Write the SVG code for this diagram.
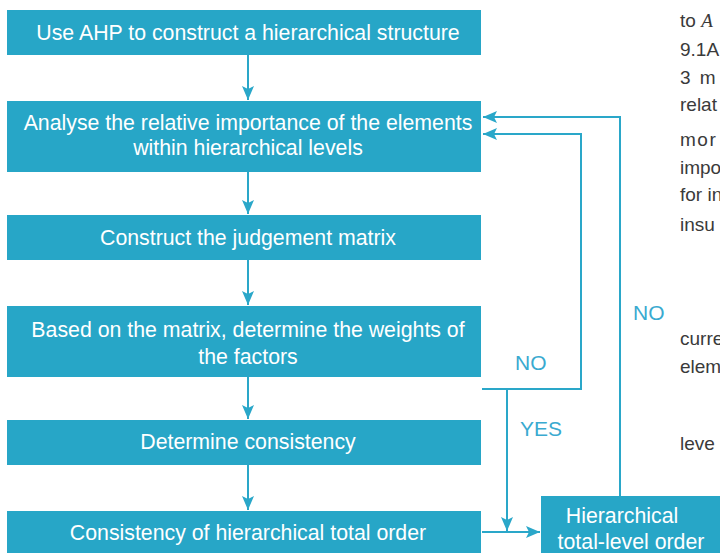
<svg xmlns="http://www.w3.org/2000/svg" width="720" height="553" viewBox="0 0 720 553">
<defs>
<style>
.box{fill:#27a6c7}
.bt{font-family:"Liberation Sans",Arial,sans-serif;font-size:21.3px;fill:#ffffff;text-anchor:middle}
.ln{fill:none;stroke:#2aa7c9;stroke-width:2}
.lbl{font-family:"Liberation Sans",Arial,sans-serif;font-size:21px;fill:#3aaad0}
.side{font-family:"Liberation Sans",Arial,sans-serif;font-size:19px;fill:#3a3a3a}
</style>
<marker id="ah" viewBox="0 0 14 12" refX="14" refY="6" markerWidth="14" markerHeight="12" markerUnits="userSpaceOnUse" orient="auto">
<path d="M0,0 L14,6 L0,12 L3,6 Z" fill="#2aa7c9"/>
</marker>
</defs>
<rect width="720" height="553" fill="#ffffff"/>

<g id="side-text">
<text class="side" x="680" y="27">to <tspan font-family="'Liberation Serif',serif" font-style="italic">A</tspan></text>
<text class="side" x="680" y="56">9.1A</text>
<text class="side" x="680" y="84" letter-spacing="2">3 m</text>
<text class="side" x="680" y="111">relat</text>
<text class="side" x="680" y="146" letter-spacing="1.5">mor</text>
<text class="side" x="680" y="174">impo</text>
<text class="side" x="680" y="201">for in</text>
<text class="side" x="680" y="231">insu</text>
<text class="side" x="680" y="345">curre</text>
<text class="side" x="680" y="373">elem</text>
<text class="side" x="680" y="450">leve</text>
</g>

<g id="connectors">
<line class="ln" x1="248" y1="55" x2="248" y2="100" marker-end="url(#ah)"/>
<line class="ln" x1="248" y1="172" x2="248" y2="214" marker-end="url(#ah)"/>
<line class="ln" x1="248" y1="260" x2="248" y2="305" marker-end="url(#ah)"/>
<line class="ln" x1="248" y1="377" x2="248" y2="419" marker-end="url(#ah)"/>
<line class="ln" x1="248" y1="465" x2="248" y2="510" marker-end="url(#ah)"/>
<polyline class="ln" points="482,389 581,389 581,134 483,134" marker-end="url(#ah)"/>
<polyline class="ln" points="620,496 620,117 483,117" marker-end="url(#ah)"/>
<line class="ln" x1="507" y1="389" x2="507" y2="531" marker-end="url(#ah)"/>
<line class="ln" x1="482" y1="532" x2="540" y2="532" marker-end="url(#ah)"/>
<text class="lbl" x="515" y="370">NO</text>
<text class="lbl" x="520" y="436">YES</text>
<text class="lbl" x="633" y="320">NO</text>
</g>

<g id="n1"><rect class="box" x="7" y="10" width="474" height="45"/><text class="bt" x="248" y="40">Use AHP to construct a hierarchical structure</text></g>
<g id="n2"><rect class="box" x="7" y="101" width="474" height="71"/><text class="bt" x="248" y="130">Analyse the relative importance of the elements</text><text class="bt" x="248" y="155">within hierarchical levels</text></g>
<g id="n3"><rect class="box" x="7" y="215" width="474" height="45"/><text class="bt" x="248" y="245">Construct the judgement matrix</text></g>
<g id="n4"><rect class="box" x="7" y="306" width="474" height="71"/><text class="bt" x="248" y="337">Based on the matrix, determine the weights of</text><text class="bt" x="248" y="364">the factors</text></g>
<g id="n5"><rect class="box" x="7" y="420" width="474" height="45"/><text class="bt" x="248" y="449">Determine consistency</text></g>
<g id="n6"><rect class="box" x="7" y="511" width="474" height="42"/><text class="bt" x="248" y="540">Consistency of hierarchical total order</text></g>
<g id="n7"><rect class="box" x="541" y="496" width="179" height="57"/><text class="bt" x="622" y="523">Hierarchical</text><text class="bt" x="631" y="549">total-level order</text></g>
</svg>
